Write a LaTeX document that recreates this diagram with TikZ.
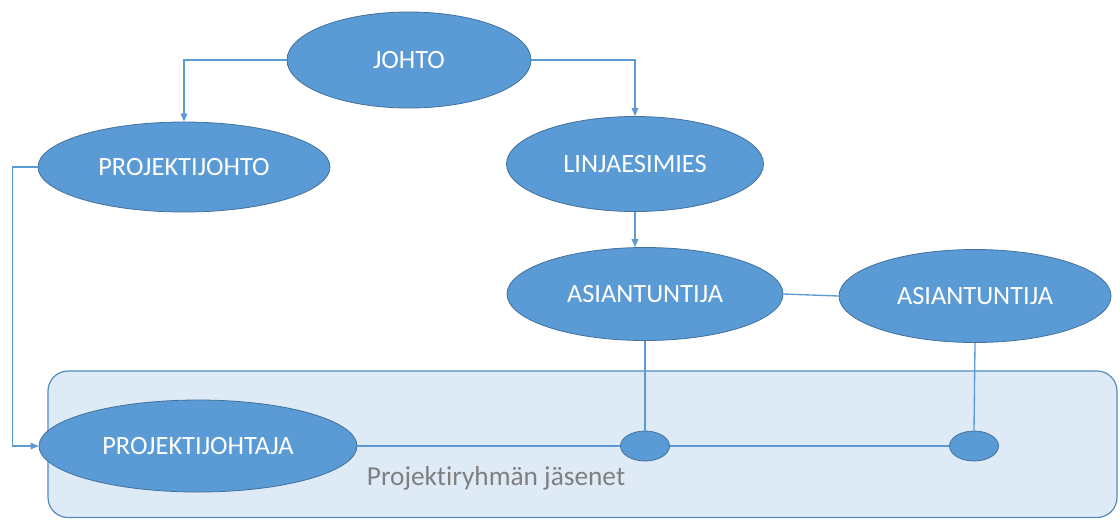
\documentclass[tikz,border=0pt]{standalone}
\usepackage{fontspec}
\setmainfont{Carlito}[Ligatures=NoCommon]
\usetikzlibrary{shapes.geometric,arrows.meta,positioning}

\definecolor{solu}{HTML}{5B9BD5}
\definecolor{reuna}{HTML}{41719C}
\definecolor{pohja}{HTML}{DEEBF7}
\definecolor{teksti}{HTML}{7F7F7F}

\tikzset{
  rooli/.style={ellipse, draw=reuna, line width=0.6pt, fill=solu, inner sep=0pt,
    text=white, font=\fontsize{19.8}{24}\selectfont},
  yhteys/.style={draw=solu, line width=1pt},
  nuoli/.style={yhteys, -{Triangle[length=6pt,width=5pt]}},
}

\begin{document}
\begin{tikzpicture}[x=0.75pt, y=-0.75pt]
                \useasboundingbox (0, 0) rectangle (1120, 519);
                \draw[draw=solu!90!black, fill=pohja, line width=0.9pt, rounded corners=15pt] (48, 371) rectangle (1117, 517.5);
                % sizes in pt (1 px = 0.75pt)
                \node[rooli, minimum width=183pt, minimum height=72pt] (johto) at (409, 60) {JOHTO};
                \node[rooli, minimum width=219pt, minimum height=67.5pt] (pjohto) at (184, 167) {PROJEKTIJOHTO};
                \node[rooli, minimum width=192.75pt, minimum height=71.25pt] (linja) at (635, 164) {LINJAESIMIES};
                \node[rooli, minimum width=207pt, minimum height=69.75pt] (asi1) at (645, 294) {ASIANTUNTIJA};
                \node[rooli, minimum width=204pt, minimum height=69.75pt] (asi2) at (975, 296) {ASIANTUNTIJA};
                \node[rooli, minimum width=238.5pt, minimum height=69pt] (pjohtaja) at (198, 446) {PROJEKTIJOHTAJA};
                \node[rooli, minimum width=36.75pt, minimum height=22.5pt] (pieni1) at (645, 446) {};
                \node[rooli, minimum width=36.75pt, minimum height=22.5pt] (pieni2) at (974, 446) {};
                \node[text=teksti, font=\fontsize{20.5}{24}\selectfont] (ryhma) at (496, 478) {Projektiryhmän jäsenet};
                \draw[nuoli] (johto.west) -| (pjohto.north);
                \draw[nuoli] (johto.east) -| (linja.north);
                \draw[nuoli] (linja.south) -- (linja.south |- asi1.north);
                \draw[yhteys] (asi1.east) -- (asi2.west);
                \draw[nuoli] (pjohto.west) -- ++(-25, 0) |- (pjohtaja.west);
                \draw[yhteys] (asi1.south) -- (pieni1.north);
                \draw[yhteys] (asi2.south) -- (pieni2.north);
                \draw[yhteys] (pjohtaja.east) -- (pieni1.west);
                \draw[yhteys] (pieni1.east) -- (pieni2.west);
            \end{tikzpicture}
\end{document}
